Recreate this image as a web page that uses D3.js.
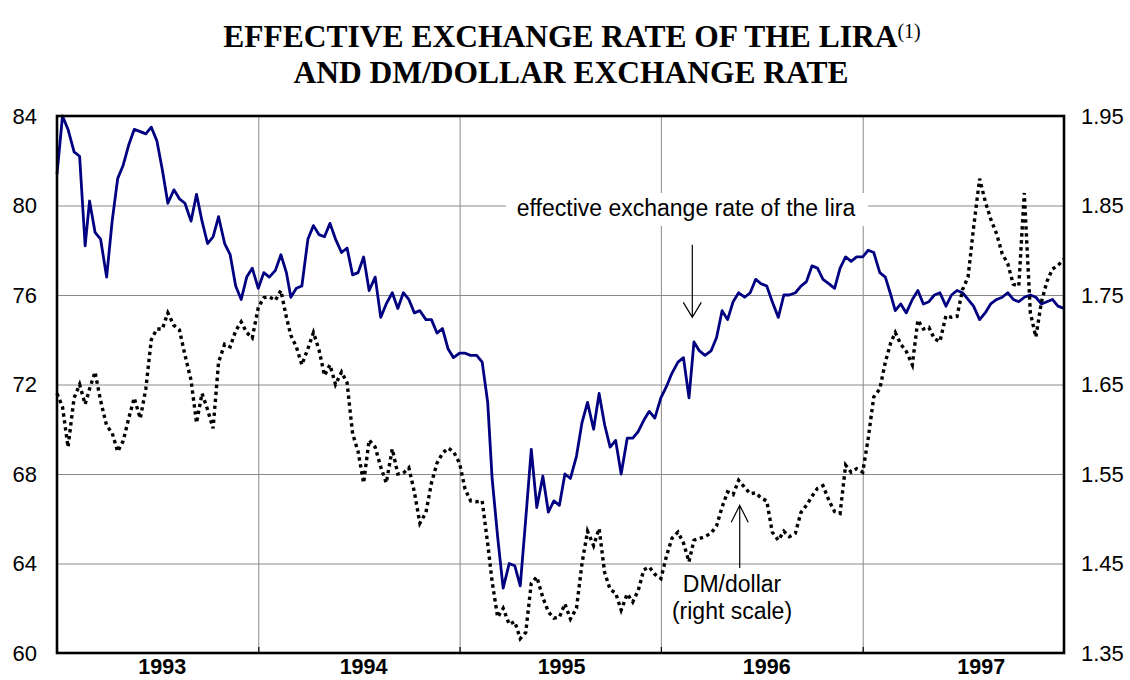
<!DOCTYPE html>
<html>
<head>
<meta charset="utf-8">
<script src="https://cdn.jsdelivr.net/npm/d3@7"></script>
<style>
body { margin: 0; background: #fff; }
text { font-family: "Liberation Sans", Arial, sans-serif; fill: #000; }
</style>
</head>
<body>
<div id="chart"></div>
<script>

// effective exchange rate of the lira (left scale), about 3 readings a month
var lira = [
  81.4, 84.0, 83.4, 82.4, 82.2, 78.2, 80.2, 78.8, 78.5, 76.8,
  79.3, 81.2, 81.8, 82.7, 83.4, 83.3, 83.2, 83.5, 82.9, 81.6,
  80.1, 80.7, 80.3, 80.1, 79.3, 80.5, 79.3, 78.3, 78.6, 79.5,
  78.3, 77.8, 76.4, 75.8, 76.8, 77.2, 76.3, 77.0, 76.8, 77.1,
  77.8, 77.0, 75.9, 76.3, 76.4, 78.5, 79.1, 78.7, 78.6, 79.2,
  78.5, 77.9, 78.1, 76.9, 77.0, 77.7, 76.2, 76.8, 75.0, 75.6,
  76.1, 75.4, 76.1, 75.8, 75.2, 75.3, 74.9, 74.9, 74.3, 74.5,
  73.6, 73.2, 73.4, 73.4, 73.3, 73.3, 73.0, 71.2, 67.8, 65.2,
  62.9, 64.0, 63.9, 63.0, 66.0, 69.1, 66.5, 67.9, 66.3, 66.8,
  66.6, 68.0, 67.8, 68.8, 70.3, 71.2, 70.0, 71.6, 70.2, 69.2,
  69.5, 68.0, 69.6, 69.6, 69.9, 70.4, 70.8, 70.5, 71.4, 71.9,
  72.5, 73.0, 73.2, 71.4, 73.9, 73.5, 73.3, 73.5, 74.1, 75.3,
  74.9, 75.7, 76.1, 75.9, 76.1, 76.7, 76.5, 76.4, 75.7, 75.0,
  76.0, 76.0, 76.1, 76.4, 76.6, 77.3, 77.2, 76.7, 76.5, 76.3,
  77.2, 77.7, 77.5, 77.7, 77.7, 78.0, 77.9, 77.0, 76.8, 76.0,
  75.3, 75.6, 75.2, 75.8, 76.2, 75.6, 75.7, 76.0, 76.1, 75.5,
  76.0, 76.2, 76.1, 75.8, 75.5, 74.9, 75.2, 75.6, 75.8, 75.9,
  76.1, 75.8, 75.7, 75.9, 76.0, 75.9, 75.6, 75.7, 75.8, 75.5,
  75.4
]

// DM/dollar (right scale), same dates
var dmDollar = [
  1.640, 1.625, 1.580, 1.635, 1.650, 1.628, 1.645, 1.664, 1.632, 1.604,
  1.596, 1.575, 1.587, 1.612, 1.635, 1.612, 1.645, 1.700, 1.712, 1.712,
  1.730, 1.716, 1.711, 1.683, 1.655, 1.607, 1.640, 1.622, 1.601, 1.675,
  1.695, 1.692, 1.710, 1.720, 1.708, 1.702, 1.736, 1.747, 1.748, 1.744,
  1.755, 1.725, 1.705, 1.692, 1.672, 1.690, 1.708, 1.689, 1.660, 1.672,
  1.650, 1.664, 1.652, 1.595, 1.575, 1.540, 1.588, 1.580, 1.558, 1.540,
  1.578, 1.550, 1.551, 1.557, 1.530, 1.495, 1.507, 1.540, 1.562, 1.573,
  1.579, 1.575, 1.562, 1.533, 1.520, 1.519, 1.520, 1.472, 1.430, 1.390,
  1.400, 1.382, 1.385, 1.366, 1.373, 1.428, 1.435, 1.412, 1.396, 1.389,
  1.390, 1.405, 1.388, 1.400, 1.450, 1.486, 1.470, 1.489, 1.440, 1.421,
  1.417, 1.398, 1.416, 1.407, 1.420, 1.443, 1.446, 1.438, 1.433, 1.458,
  1.478, 1.485, 1.473, 1.452, 1.476, 1.478, 1.480, 1.484, 1.492, 1.513,
  1.530, 1.527, 1.543, 1.535, 1.528, 1.529, 1.523, 1.520, 1.485, 1.476,
  1.486, 1.480, 1.484, 1.507, 1.515, 1.525, 1.534, 1.537, 1.520, 1.508,
  1.506, 1.560, 1.552, 1.556, 1.552, 1.590, 1.636, 1.645, 1.675, 1.697,
  1.708, 1.695, 1.687, 1.672, 1.722, 1.712, 1.714, 1.701, 1.698, 1.727,
  1.725, 1.726, 1.756, 1.770, 1.825, 1.880, 1.855, 1.835, 1.818, 1.796,
  1.785, 1.762, 1.760, 1.864, 1.730, 1.703, 1.742, 1.765, 1.779, 1.783,
  1.790
]

// dates: 1st, 11th and 21st of each month from Jan 1993
var dates = lira.map(function(d, i) {
  return new Date(1993, Math.floor(i / 3), 1 + 10 * (i % 3))
})

var liraTicks = [60, 64, 68, 72, 76, 80, 84]
var dmTicks = [1.35, 1.45, 1.55, 1.65, 1.75, 1.85, 1.95]
var yearStarts = ["1994-01-01", "1995-01-01", "1996-01-01", "1997-01-01"]
var yearLabels = ["1993-07-10", "1994-07-10", "1995-07-04", "1996-07-10", "1997-08-03"]

var parse = d3.timeParse("%Y-%m-%d")

var svg = d3.select("#chart").append("svg")
  .attr("width", 1130)
  .attr("height", 680)

var plotL = 57, plotR = 1064, plotT = 116, plotB = 653

var x = d3.scaleTime()
  .domain([new Date(1993, 0, 1), new Date(1998, 0, 1)])
  .range([plotL, plotR])
var yL = d3.scaleLinear().domain([60, 84]).range([plotB, plotT])
var yR = d3.scaleLinear().domain([1.35, 1.95]).range([plotB, plotT])

// title
var title = svg.append("g")
  .style("font-weight", "bold")
  .style("font-size", "31.5px")

var t1 = title.append("text")
  .attr("x", 572).attr("y", 47)
  .attr("text-anchor", "middle")
  .style("font-family", "'Liberation Serif', 'Times New Roman', serif")
t1.append("tspan").text("EFFECTIVE EXCHANGE RATE OF THE LIRA")
t1.append("tspan")
  .attr("dy", -9)
  .style("font-size", "20px")
  .style("font-weight", "normal")
  .text("(1)")

title.append("text")
  .attr("x", 571).attr("y", 83)
  .attr("text-anchor", "middle")
  .style("font-family", "'Liberation Serif', 'Times New Roman', serif")
  .text("AND DM/DOLLAR EXCHANGE RATE")

// grid
svg.append("g")
  .attr("transform", "translate(" + plotL + ",0)")
  .call(d3.axisLeft(yL).tickValues(liraTicks).tickSize(-(plotR - plotL)).tickFormat(""))
  .call(function(g) { g.select(".domain").remove() })
  .selectAll("line").attr("stroke", "#8a8a8a").attr("stroke-width", 1)

svg.append("g")
  .attr("transform", "translate(0," + plotB + ")")
  .call(d3.axisBottom(x).tickValues(yearStarts.map(parse)).tickSize(-(plotB - plotT)).tickFormat(""))
  .call(function(g) { g.select(".domain").remove() })
  .selectAll("line").attr("stroke", "#8a8a8a").attr("stroke-width", 1)

// small year ticks on the bottom axis
svg.append("g")
  .attr("transform", "translate(0," + plotB + ")")
  .call(d3.axisBottom(x).tickValues(yearStarts.map(parse)).tickSize(-6).tickFormat(""))
  .call(function(g) { g.select(".domain").remove() })
  .selectAll("line").attr("stroke", "#000").attr("stroke-width", 1.2)

// white box behind the lira label
svg.append("rect")
  .attr("x", 506).attr("y", 193)
  .attr("width", 362).attr("height", 33)
  .attr("fill", "#fff")

// series
var liraLine = d3.line()
  .x(function(d, i) { return x(dates[i]) })
  .y(function(d) { return yL(d) })

var dmLine = d3.line()
  .x(function(d, i) { return x(dates[i]) })
  .y(function(d) { return yR(d) })

svg.append("path")
  .datum(lira)
  .attr("d", liraLine)
  .attr("fill", "none")
  .attr("stroke", "#000080")
  .attr("stroke-width", 2.8)
  .attr("stroke-linejoin", "round")

svg.append("path")
  .datum(dmDollar)
  .attr("d", dmLine)
  .attr("fill", "none")
  .attr("stroke", "#000")
  .attr("stroke-width", 3.4)
  .attr("stroke-dasharray", "3.4,3.6")

// frame
svg.append("rect")
  .attr("x", plotL).attr("y", plotT)
  .attr("width", plotR - plotL).attr("height", plotB - plotT)
  .attr("fill", "none")
  .attr("stroke", "#000")
  .attr("stroke-width", 2.6)

// axes labels
svg.append("g")
  .attr("transform", "translate(" + plotL + ",0)")
  .call(d3.axisLeft(yL).tickValues(liraTicks).tickSize(0).tickPadding(20))
  .call(function(g) { g.select(".domain").remove() })
  .selectAll("text")
  .style("font-family", "'Liberation Sans', Arial, sans-serif")
  .style("font-size", "22px")

svg.append("g")
  .attr("transform", "translate(" + plotR + ",0)")
  .call(d3.axisRight(yR).tickValues(dmTicks).tickSize(0).tickPadding(17).tickFormat(d3.format(".2f")))
  .call(function(g) { g.select(".domain").remove() })
  .selectAll("text")
  .style("font-family", "'Liberation Sans', Arial, sans-serif")
  .style("font-size", "22px")

svg.append("g")
  .attr("transform", "translate(0," + plotB + ")")
  .call(d3.axisBottom(x).tickValues(yearLabels.map(parse)).tickSize(0).tickPadding(6).tickFormat(d3.timeFormat("%Y")))
  .call(function(g) { g.select(".domain").remove() })
  .selectAll("text")
  .style("font-family", "'Liberation Sans', Arial, sans-serif")
  .style("font-size", "21.5px")
  .style("font-weight", "bold")

// annotations
svg.append("text")
  .attr("x", 686).attr("y", 216)
  .attr("text-anchor", "middle")
  .style("font-size", "23px")
  .text("effective exchange rate of the lira")

var ax1 = x(new Date(1996, 1, 27))
svg.append("path")
  .attr("d", "M" + ax1 + "," + yL(78.25) + "V" + yL(75.0)
    + "M" + (ax1 - 9) + "," + (yL(75.0) - 15) + "L" + ax1 + "," + yL(75.0) + "L" + (ax1 + 9) + "," + (yL(75.0) - 15))
  .attr("fill", "none")
  .attr("stroke", "#000")
  .attr("stroke-width", 1.2)

var ax2 = x(new Date(1996, 4, 23))
svg.append("path")
  .attr("d", "M" + ax2 + "," + yR(1.445) + "V" + yR(1.515)
    + "M" + (ax2 - 8.5) + "," + (yR(1.515) + 17) + "L" + ax2 + "," + yR(1.515) + "L" + (ax2 + 8.5) + "," + (yR(1.515) + 17))
  .attr("fill", "none")
  .attr("stroke", "#000")
  .attr("stroke-width", 1.2)

svg.append("text")
  .attr("x", 732).attr("y", 592)
  .attr("text-anchor", "middle")
  .style("font-size", "23px")
  .text("DM/dollar")

svg.append("text")
  .attr("x", 732).attr("y", 619)
  .attr("text-anchor", "middle")
  .style("font-size", "23px")
  .text("(right scale)")

</script>
</body>
</html>
